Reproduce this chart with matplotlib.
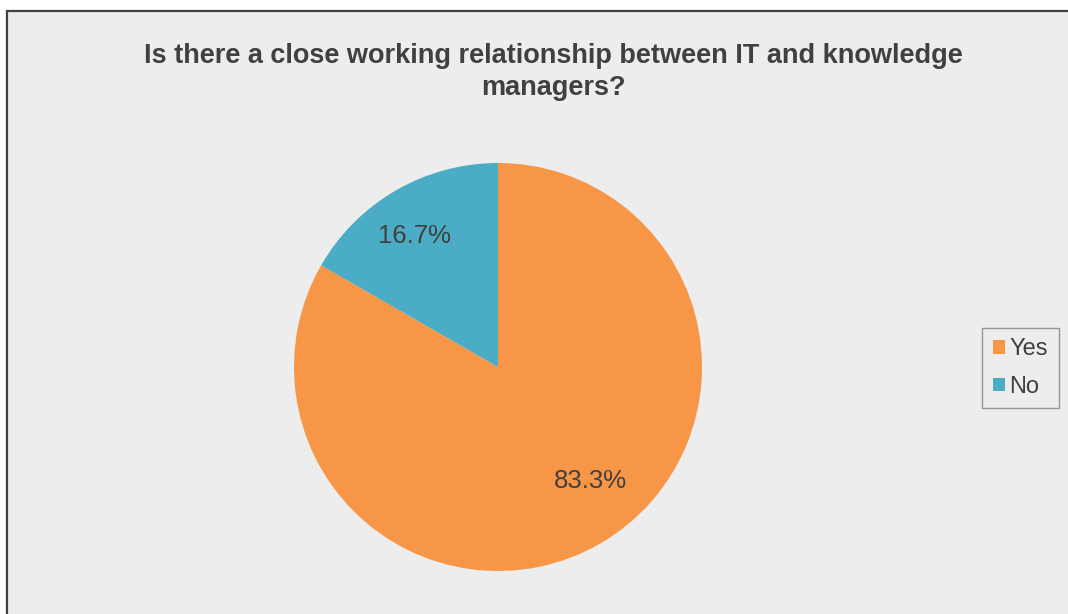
import matplotlib.pyplot as plt
from matplotlib.patches import Rectangle

# survey answers
labels = ["Yes", "No"]
shares = [83.3, 16.7]
colors = ["#F79646", "#4BACC6"]
title = "Is there a close working relationship between IT and knowledge\nmanagers?"

W, H = 1068, 614
fig = plt.figure(figsize=(W / 100, H / 100), dpi=100)
fig.patch.set_facecolor("white")

# chart area frame (runs off the right and bottom edges)
bg = fig.add_axes([0, 0, 1, 1], zorder=-1)
bg.axis("off")
bg.set_xlim(0, W)
bg.set_ylim(H, 0)
bg.add_patch(Rectangle((6.5, 10.5), W + 50, H + 50, facecolor="#EDEDED",
                       edgecolor="#404040", linewidth=1.6))

fig.text(553 / W, 1 - 72 / H, title, ha="center", va="center",
         fontsize=19.5, fontweight="bold", family="Liberation Sans",
         color="#404040", linespacing=1.3)

cx, cy, r = 498, 367, 204
ax = fig.add_axes([(cx - r) / W, (H - cy - r) / H, 2 * r / W, 2 * r / H])
wedges, _, autotexts = ax.pie(shares, colors=colors, startangle=90,
                              counterclock=False, radius=1,
                              autopct="%.1f%%", pctdistance=0.75,
                              textprops=dict(fontsize=18.5, color="#404040",
                                             family="Liberation Sans"))
# percentage labels sit a little off the wedge bisectors
autotexts[0].set_position((0.455, -0.56))
autotexts[1].set_position((-0.41, 0.64))
ax.set_xlim(-1, 1)
ax.set_ylim(-1, 1)
ax.set_aspect("equal")
ax.axis("off")

leg = fig.legend(wedges, labels, loc="center", bbox_to_anchor=(1020.5 / W, 1 - 368 / H),
                 frameon=True, fancybox=False, handlelength=0.5, handleheight=0.5,
                 handletextpad=0.2, labelspacing=0.65, borderpad=0.45,
                 borderaxespad=0, prop=dict(family="Liberation Sans", size=17))
leg.get_frame().set_edgecolor("#808080")
leg.get_frame().set_facecolor("#EDEDED")
leg.get_frame().set_linewidth(1.0)
for t in leg.get_texts():
    t.set_color("#404040")

fig.savefig("out.png", dpi=100)
